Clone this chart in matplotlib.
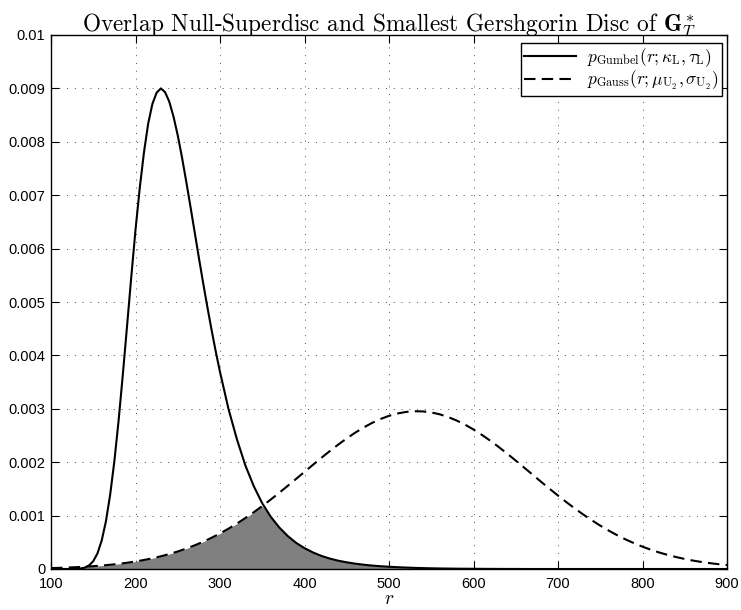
import numpy as np
import matplotlib
matplotlib.use("Agg")
import matplotlib.pyplot as plt

plt.rcParams['mathtext.fontset'] = 'cm'
plt.rcParams['font.family'] = ['Liberation Sans', 'DejaVu Sans']

# radius grid (finer where the Gumbel peak bends)
r = [100, 110, 120, 130, 135, 140, 145, 150, 155, 160, 165, 170, 175, 180, 185,
     190, 195, 200, 205, 210, 215, 220, 225, 230, 235, 240, 245, 250, 255, 260,
     265, 270, 275, 280, 285, 290, 295, 300,
     310, 320, 330, 340, 350, 360, 370, 380, 390,
     400, 410, 420, 430, 440, 450, 460, 470, 480, 490,
     500, 510, 520, 530, 540, 550, 560, 570, 580, 590,
     600, 610, 620, 630, 640, 650, 660, 670, 680, 690,
     700, 710, 720, 730, 740, 750, 760, 770, 780, 790,
     800, 810, 820, 830, 840, 850, 860, 870, 880, 890, 900]

# Gumbel density
p_gumbel = [0.0, 0.0, 0.0, 3e-6, 9e-6, 2.6e-5, 6.6e-5, 1.47e-4, 2.92e-4, 5.34e-4,
            8.93e-4, 1.39e-3, 2.02e-3, 2.78e-3, 3.64e-3,
            4.55e-3, 5.47e-3, 6.35e-3, 7.13e-3, 7.80e-3, 8.34e-3, 8.71e-3, 8.92e-3,
            9.00e-3, 8.93e-3, 8.75e-3, 8.47e-3, 8.12e-3, 7.71e-3, 7.26e-3,
            6.79e-3, 6.31e-3, 5.83e-3, 5.36e-3, 4.91e-3, 4.48e-3, 4.07e-3, 3.69e-3,
            3.00e-3, 2.43e-3, 1.94e-3, 1.55e-3, 1.23e-3, 9.8e-4, 7.8e-4, 6.2e-4, 4.9e-4,
            3.9e-4, 3.1e-4, 2.45e-4, 1.95e-4, 1.55e-4, 1.25e-4, 1.0e-4, 8.0e-5, 6.4e-5, 5.2e-5,
            4.2e-5, 3.4e-5, 2.7e-5, 2.1e-5, 1.7e-5, 1.3e-5, 1.0e-5, 8e-6, 6e-6, 5e-6,
            4e-6, 3e-6, 2e-6, 1.5e-6, 1e-6, 1e-6, 0.0, 0.0, 0.0, 0.0,
            0.0, 0.0, 0.0, 0.0, 0.0, 0.0, 0.0, 0.0, 0.0, 0.0,
            0.0, 0.0, 0.0, 0.0, 0.0, 0.0, 0.0, 0.0, 0.0, 0.0, 0.0]

# Gaussian density
p_gauss = [1.73e-5, 2.18e-5, 2.75e-5, 3.43e-5, 3.83e-5, 4.27e-5, 4.75e-5, 5.28e-5, 5.86e-5, 6.50e-5,
           7.19e-5, 7.95e-5, 8.78e-5, 9.67e-5, 1.065e-4,
           1.17e-4, 1.285e-4, 1.41e-4, 1.543e-4, 1.69e-4, 1.842e-4, 2.01e-4, 2.19e-4,
           2.38e-4, 2.59e-4, 2.80e-4, 3.04e-4, 3.28e-4, 3.55e-4, 3.82e-4,
           4.12e-4, 4.43e-4, 4.76e-4, 5.10e-4, 5.47e-4, 5.85e-4, 6.25e-4, 6.66e-4,
           7.55e-4, 8.51e-4, 9.54e-4, 1.063e-3, 1.179e-3, 1.30e-3, 1.426e-3, 1.555e-3, 1.686e-3,
           1.819e-3, 1.951e-3, 2.082e-3, 2.209e-3, 2.331e-3, 2.446e-3, 2.553e-3, 2.650e-3, 2.736e-3, 2.809e-3,
           2.868e-3, 2.912e-3, 2.941e-3, 2.954e-3, 2.951e-3, 2.932e-3, 2.897e-3, 2.846e-3, 2.781e-3, 2.703e-3,
           2.612e-3, 2.511e-3, 2.401e-3, 2.283e-3, 2.158e-3, 2.030e-3, 1.898e-3, 1.766e-3, 1.633e-3, 1.503e-3,
           1.375e-3, 1.251e-3, 1.132e-3, 1.019e-3, 9.13e-4, 8.12e-4, 7.19e-4, 6.33e-4, 5.54e-4, 4.83e-4,
           4.18e-4, 3.60e-4, 3.08e-4, 2.63e-4, 2.23e-4, 1.88e-4, 1.57e-4, 1.31e-4, 1.09e-4, 8.96e-5, 7.34e-5]

x_ticks = [100, 200, 300, 400, 500, 600, 700, 800, 900]
y_ticks = [0, 0.001, 0.002, 0.003, 0.004, 0.005, 0.006, 0.007, 0.008, 0.009, 0.01]
y_tick_labels = ['0', '0.001', '0.002', '0.003', '0.004', '0.005', '0.006',
                 '0.007', '0.008', '0.009', '0.01']

fig = plt.figure(figsize=(7.41, 6.10), dpi=100)
ax = fig.add_axes([51/741, 1-569/610, (727-51)/741, (569-35)/610])

ra = np.array(r, dtype=float)
g1 = np.array(p_gumbel)
g2 = np.array(p_gauss)

ax.fill_between(ra, 0, np.minimum(g1, g2), color='#808080', linewidth=0, zorder=2)
ax.plot(ra, g1, color='black', lw=1.5, zorder=3,
        label=r'$p_{\mathrm{Gumbel}}(r;\kappa_{\mathrm{L}},\tau_{\mathrm{L}})$')
ax.plot(ra, g2, color='black', lw=1.5, linestyle=(0, (5.5, 3.0)), zorder=3,
        label=r'$p_{\mathrm{Gauss}}(r;\mu_{\mathrm{U_2}},\sigma_{\mathrm{U_2}})$')

ax.set_xlim(100, 900)
ax.set_ylim(0, 0.01)
ax.set_xticks(x_ticks)
ax.set_xticklabels([str(v) for v in x_ticks])
ax.set_yticks(y_ticks)
ax.set_yticklabels(y_tick_labels)
ax.tick_params(direction='in', top=True, right=True, length=5.5, width=0.8,
               labelsize=10.5, pad=4)
ax.tick_params(axis='x', pad=5.5)
ax.grid(True, linestyle=(0, (1, 7)), color='0.3', linewidth=0.7)
ax.set_axisbelow(True)
for s in ax.spines.values():
    s.set_linewidth(1.0)

ax.set_xlabel(r'$r$', fontsize=14, labelpad=0)
ax.set_title(r'Overlap Null-Superdisc and Smallest Gershgorin Disc of $\mathbf{G}_T^*$',
             fontfamily='cmr10', fontsize=16.8, pad=3)

leg = ax.legend(loc='upper right', bbox_to_anchor=(722/741, 1-43/610),
                bbox_transform=fig.transFigure, borderaxespad=0,
                fontsize=12.5, handlelength=3.0, handletextpad=0.6,
                fancybox=False, framealpha=1, edgecolor='black',
                borderpad=0.2, labelspacing=0.0)
leg.get_frame().set_linewidth(1.0)

fig.savefig('out.png', dpi=100)
